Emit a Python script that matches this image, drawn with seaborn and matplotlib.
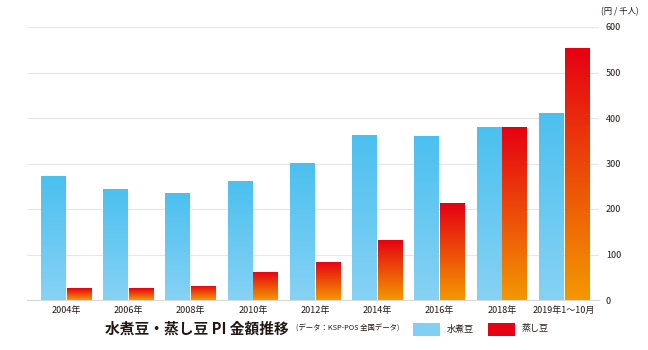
import numpy as np
import pandas as pd
import matplotlib
matplotlib.use("Agg")
import matplotlib.pyplot as plt
from matplotlib.colors import LinearSegmentedColormap
from matplotlib.patches import Rectangle
import seaborn as sns

categories = ["2004年", "2006年", "2008年", "2010年", "2012年", "2014年", "2016年", "2018年", "2019年1～10月"]
mizuni = [272, 244, 235, 261, 301, 363, 360, 380, 411]
mushi = [26, 26, 31, 62, 84, 132, 213, 380, 554]
series_names = ["水煮豆", "蒸し豆"]
yticks = [0, 100, 200, 300, 400, 500, 600]

df = pd.DataFrame({
    "cat": categories * 2,
    "value": mizuni + mushi,
    "series": [series_names[0]] * len(categories) + [series_names[1]] * len(categories),
})

sns.set_theme(style="white")
plt.rcParams['font.family'] = ['Noto Sans CJK JP', 'DejaVu Sans']

fig = plt.figure(figsize=(6.48, 3.5), dpi=100)
ax = fig.add_axes([27/648, 1-300/350, (599-27)/648, (300-27)/350])

sns.barplot(data=df, x="cat", y="value", hue="series", order=categories,
            hue_order=series_names, palette=["#5bc5f0", "#e60012"],
            width=0.83, gap=0.04, ax=ax, legend=False)

blue_cmap = LinearSegmentedColormap.from_list("b", ["#86d2f4", "#4bc0ef"])
red_cmap = LinearSegmentedColormap.from_list("r", ["#f39800", "#e60012"])
grad = np.linspace(0, 1, 256).reshape(-1, 1)

for i, p in enumerate(list(ax.patches)):
    x0, y0 = p.get_x(), p.get_y()
    w, h = p.get_width(), p.get_height()
    if h <= 0:
        continue
    cmap = blue_cmap if i < len(categories) else red_cmap
    im = ax.imshow(grad, cmap=cmap, origin="lower", aspect="auto",
                   extent=[x0, x0 + w, y0, y0 + h], zorder=2)
    im.set_clip_path(p)
    p.set_facecolor("none")
    p.set_edgecolor("none")

ax.set_xlim(-0.63, 8.56)
ax.set_ylim(0, 600)
ax.set_yticks(yticks)
ax.yaxis.tick_right()
ax.tick_params(axis="y", length=0, pad=5, labelsize=6.5, labelcolor="#231815")
ax.tick_params(axis="x", length=0, pad=4, labelsize=6.5, labelcolor="#231815")
ax.set_xlabel("")
ax.set_ylabel("")
ax.grid(axis="y", color="#e6e6e6", linewidth=0.8)
ax.set_axisbelow(True)
for s in ["top", "left", "right"]:
    ax.spines[s].set_visible(False)
ax.spines["bottom"].set_color("#d9d9d9")
ax.spines["bottom"].set_linewidth(0.8)

fig.text(0.957, 1-12/350, "(円 / 千人)", fontsize=6, ha="center", va="center", color="#231815")

fig.text(105/648, 1-329/350, "水煮豆・蒸し豆 PI 金額推移", fontsize=10.6, fontweight="bold",
         ha="left", va="center", color="#231815")
fig.text(296/648, 1-329/350, "(データ：KSP-POS 全国データ)", fontsize=5.3,
         ha="left", va="center", color="#231815")
fig.patches.append(Rectangle((413/648, 1-336/350), 27/648, 13/350, transform=fig.transFigure,
                             facecolor="#7fd0f4", edgecolor="none"))
fig.text(447/648, 1-329/350, series_names[0], fontsize=6.5, ha="left", va="center", color="#231815")
fig.patches.append(Rectangle((488/648, 1-336/350), 27/648, 13/350, transform=fig.transFigure,
                             facecolor="#e60012", edgecolor="none"))
fig.text(522/648, 1-329/350, series_names[1], fontsize=6.5, ha="left", va="center", color="#231815")

fig.savefig("out.png", dpi=100, facecolor="white")
